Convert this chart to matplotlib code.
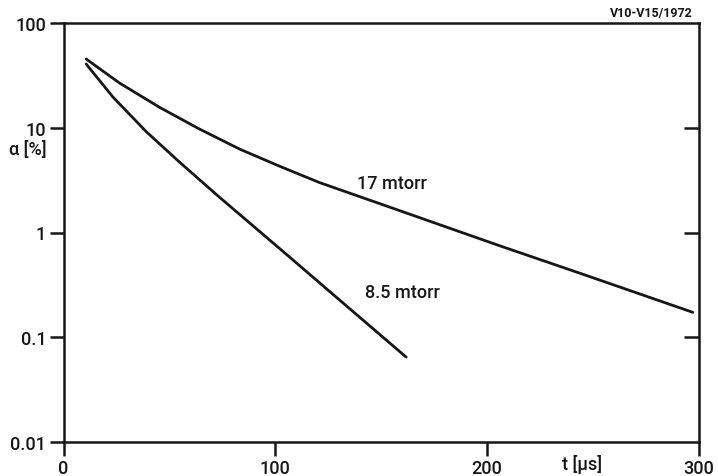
import matplotlib.pyplot as plt

plt.rcParams['font.family'] = ['Roboto', 'DejaVu Sans']
plt.rcParams['font.weight'] = 'medium'

# decay curves, alpha in percent vs time in microseconds
t_17 = [10.7, 26.5, 45.3, 64.2, 83.1, 102.0, 120.9, 158.7, 206.0, 245.3, 297.3]
a_17 = [45.3, 26.7, 15.7, 9.73, 6.27, 4.30, 3.00, 1.62, 0.748, 0.40, 0.173]

t_85 = [10.7, 23.3, 39.1, 54.8, 73.7, 102.0, 130.4, 161.9]
a_85 = [40.6, 19.7, 9.17, 4.70, 2.17, 0.706, 0.227, 0.0646]

yticks = [0.01, 0.1, 1, 10, 100]
ytick_labels = ['0.01', '0.1', '1', '10', '100']
xticks = [0, 100, 200, 300]

ink = '#161616'

fig = plt.figure(figsize=(7.18, 4.77), dpi=100)
ax = fig.add_axes([63.5 / 718, 34 / 477, 635 / 718, 419 / 477])

ax.plot(t_17, a_17, color=ink, lw=2.0, solid_capstyle='round', solid_joinstyle='round')
ax.plot(t_85, a_85, color=ink, lw=2.0, solid_capstyle='round', solid_joinstyle='round')

ax.set_yscale('log')
ax.set_xlim(0, 300)
ax.set_ylim(0.01, 100)
ax.set_yticks(yticks)
ax.set_yticklabels(ytick_labels)
ax.minorticks_off()
ax.set_xticks(xticks)

for s in ax.spines.values():
    s.set_linewidth(1.8)
    s.set_color(ink)

ax.tick_params(axis='both', which='major', direction='out', length=10, width=1.8,
               pad=2.5, labelsize=13, colors=ink)

# inward ticks on the right edge
ax2 = ax.twinx()
ax2.set_yscale('log')
ax2.set_ylim(0.01, 100)
ax2.set_yticks([0.1, 1, 10])
ax2.minorticks_off()
ax2.set_yticklabels([])
ax2.tick_params(axis='y', direction='in', length=11, width=1.8, colors=ink)
for s in ax2.spines.values():
    s.set_visible(False)

ax.text(155, 3.0, '17 mtorr', fontsize=13, ha='center', va='center', color=ink)
ax.text(160, 0.27, '8.5 mtorr', fontsize=13, ha='center', va='center', color=ink)
ax.text(245, 0.0063, 't [μs]', fontsize=13, ha='center', va='center', color=ink)
ax.text(-17, 6.3, 'α [%]', fontsize=13, ha='center', va='center', color=ink)
fig.text(693 / 718, 1 - 13 / 477, 'V10-V15/1972', fontsize=9, fontweight='bold',
         ha='right', va='center', color=ink)

fig.savefig('out.png', dpi=100)
